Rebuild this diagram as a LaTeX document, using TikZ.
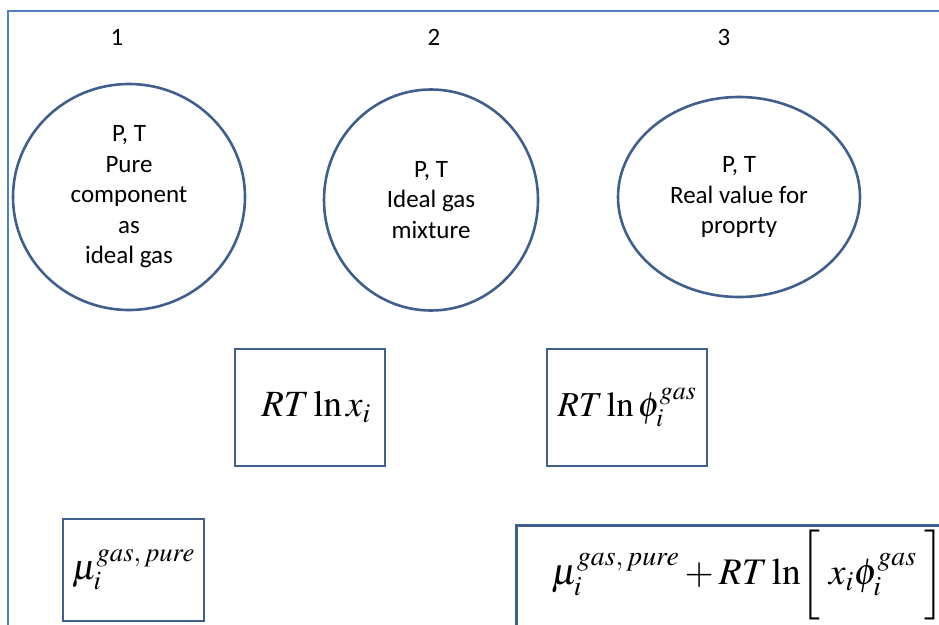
\documentclass[tikz,border=0pt]{standalone}
\usepackage{mathptmx}
\usepackage[no-math]{fontspec}
\setmainfont{Carlito}
\usetikzlibrary{shapes.geometric}
\definecolor{framecol}{HTML}{4F81BD}
\definecolor{shapecol}{HTML}{3F5F8C}
\tikzset{
  x=1pt, y=-1pt,
  frameline/.style={draw=framecol, line width=2.8pt},
  bubble/.style={ellipse, draw=shapecol, line width=2.6pt, inner sep=0pt, align=center,
                 font=\fontsize{25}{30.5}\selectfont},
  formbox/.style={rectangle, draw=shapecol, line width=2.6pt, inner sep=0pt},
  numlabel/.style={font=\fontsize{25}{28}\selectfont},
}
\begin{document}
\begin{tikzpicture}
\useasboundingbox (0,0) rectangle (939,624);
\draw[frameline] (945,11) -- (8,11) -- (8,630);

\node[numlabel] (n1) at (117,37) {1};
\node[numlabel] (n2) at (434,37) {2};
\node[numlabel] (n3) at (724,37) {3};

\node[bubble, minimum width=232pt, minimum height=226pt] (c1) at (129,197)
  {P, T\\Pure\\component\\as\\ideal gas};
\node[bubble, minimum width=214pt, minimum height=221pt] (c2) at (431,200)
  {P, T\\Ideal gas\\mixture};
\node[bubble, minimum width=242pt, minimum height=200pt] (c3) at (739,197)
  {P, T\\Real value for\\proprty};

\node[formbox, minimum width=150pt, minimum height=117pt] (bA) at (310,407.5) {};
\node (tA) at (316,407) {\fontsize{37}{37}\selectfont $RT\ln x_i$};
\node[formbox, minimum width=160pt, minimum height=117pt] (bB) at (627,407.5)
  {\fontsize{35}{35}\selectfont $RT\ln \phi_i^{gas}$};
\node[formbox, minimum width=141pt, minimum height=102pt] (bC) at (133.5,570)
  {\fontsize{36}{36}\selectfont $\mu_i^{gas,\,pure}$};
\node[formbox, minimum width=462pt, minimum height=104pt, anchor=north west] (bD) at (515,524) {};
\node (eqD) at (748,575)
  {\fontsize{37.5}{37.5}\selectfont $\mu_i^{gas,\,pure}+RT\ln\!\bigg[\;x_i\phi_i^{gas}\;\bigg]$};
\end{tikzpicture}
\end{document}
